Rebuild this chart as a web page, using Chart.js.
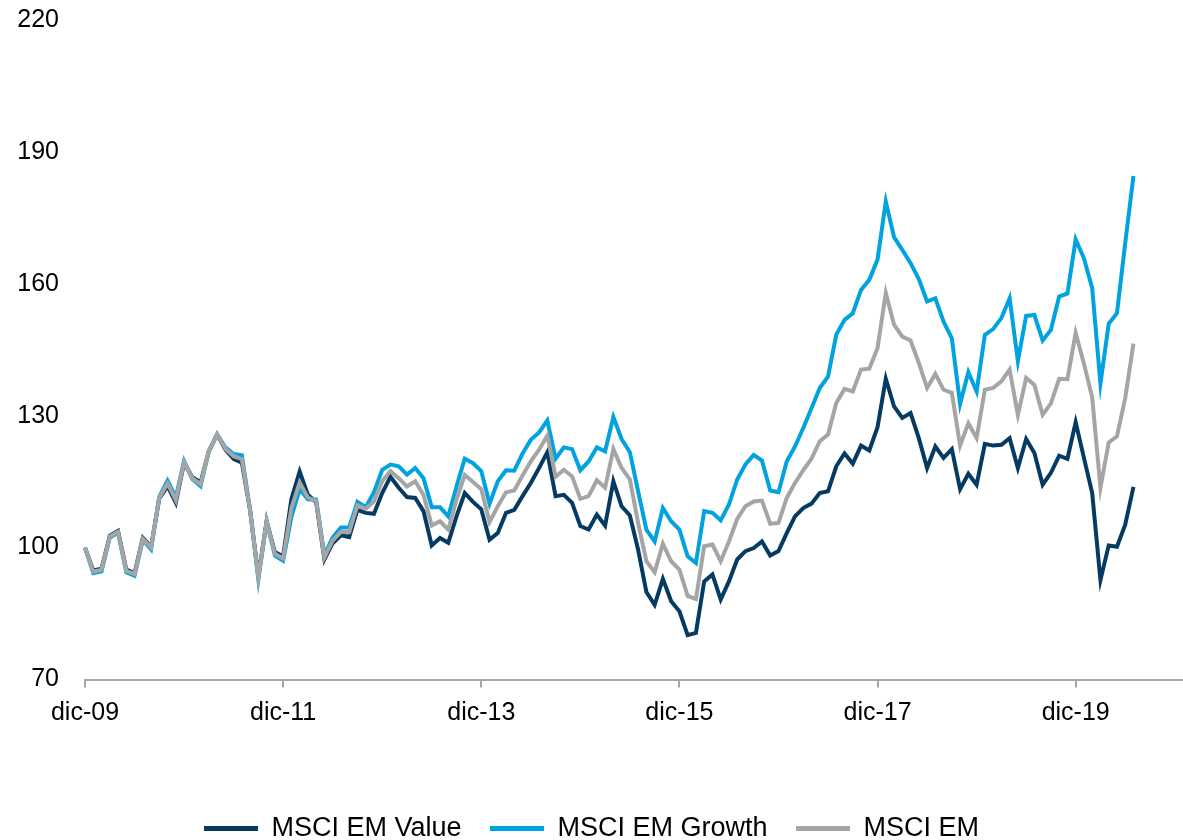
<!DOCTYPE html>
<html>
<head>
<meta charset="utf-8">
<script src="https://cdn.jsdelivr.net/npm/chart.js@4"></script>
<style>
  html, body { margin: 0; padding: 0; background: #fff; }
  #box { width: 1183px; height: 840px; }
</style>
</head>
<body>
<div id="box"><canvas id="myChart"></canvas></div>
<script>
'use strict'
// meses en castellano, el eje empieza en dic-09
let monthNames = ['ene','feb','mar','abr','may','jun','jul','ago','sep','oct','nov','dic'];
let axisMonths = 134;

let valueSeries = [100, 94.8, 95.2, 102.7, 103.8, 95, 94.2, 102.2, 100.2, 111.2,
  114, 110.2, 119.3, 116, 114.8, 121.9, 125.7, 122.3, 120.2, 119.3,
  108.5, 93.5, 106, 99, 98, 111, 117.3, 112, 110.3, 97.3,
  101, 102.8, 102.4, 108.6, 107.9, 107.7, 112.4, 116.1, 113.6, 111.5,
  111.3, 108.3, 100.5, 102.2, 101.1, 107.1, 112.4, 110.4, 108.7, 101.8,
  103.3, 107.9, 108.6, 111.7, 114.7, 118.1, 121.7, 111.7, 112, 110.2,
  104.9, 104.1, 107.5, 105, 115.1, 109.4, 107.3, 99.5, 89.9, 87,
  92.9, 87.8, 85.5, 80.1, 80.6, 92.3, 93.9, 88.2, 92.3, 97.3,
  99.2, 99.9, 101.4, 98.2, 99.2, 103.3, 107.1, 109, 110, 112.4,
  112.8, 118.5, 121.4, 119.1, 123.2, 122.1, 127.4, 138.4, 132.1, 129.5,
  130.6, 124.9, 118.1, 123, 120.4, 122.4, 113.3, 116.8, 114.3, 123.6,
  123.2, 123.4, 124.9, 118.1, 124.7, 121.5, 114.3, 117, 120.9, 120.2,
  128.5, 120.4, 112.4, 92.6, 100.5, 100.2, 105.2, 113.8];

let growthSeries = [100, 94.2, 94.6, 102.3, 103.4, 94.4, 93.6, 101.8, 99.6, 111.6,
  115.2, 111.4, 119.7, 115.6, 114, 121.9, 125.7, 122.8, 121.3, 121,
  108.5, 92.8, 106, 98.2, 97, 107, 113.3, 111, 110.9, 98.3,
  102.3, 104.6, 104.6, 110.4, 109.2, 112.6, 117.7, 118.9, 118.5, 116.6,
  118.1, 115.8, 109.2, 109.2, 107.1, 113.9, 120.2, 119.2, 117.4, 110,
  115.1, 117.6, 117.5, 121.4, 124.5, 126.2, 128.9, 120.2, 122.8, 122.4,
  117.6, 119.6, 122.8, 121.9, 129.7, 124.7, 121.7, 112.8, 104.1, 101.4,
  109, 106, 104.1, 98, 96.5, 108.3, 107.9, 106.2, 109.8, 115.5,
  118.9, 121.1, 119.8, 113, 112.6, 119.6, 123, 127.2, 131.7, 136.3,
  138.9, 148.4, 151.8, 153.3, 158.6, 160.9, 165.5, 178.7, 170.6, 167.7,
  164.7, 161.1, 156, 156.7, 151.4, 147.6, 132.7, 139.9, 135.5, 148.4,
  149.7, 152.2, 156.7, 142.4, 152.7, 152.9, 147.1, 149.5, 157.1, 157.8,
  170.1, 165.8, 159, 137.3, 150.9, 153.3, 169.2, 184.5];

let emSeries = [100, 94.5, 95, 102.5, 103.6, 94.7, 94, 102, 100, 111.4,
  114.6, 110.8, 119.5, 115.8, 114.4, 121.9, 125.7, 122.5, 120.8, 120.1,
  108.5, 93.1, 106, 98.6, 97.5, 109, 114.8, 111.4, 110.6, 97.8,
  101.6, 103.6, 103.5, 109.6, 108.8, 110.5, 115.1, 117.4, 115.8, 113.9,
  115.1, 112, 105, 106, 104.1, 110.9, 116.5, 114.9, 113.3, 105.8,
  109.4, 112.6, 113, 116.4, 119.6, 122.3, 125.5, 116.1, 117.7, 116.2,
  111.1, 111.7, 115.3, 113.6, 122.4, 118.1, 115.5, 105.6, 96.9, 94.4,
  100.9, 96.9, 95, 89, 88.3, 100.3, 100.7, 96.9, 101.4, 106.5,
  109.4, 110.5, 110.7, 105.4, 105.6, 111.3, 114.7, 117.6, 120.2, 124.2,
  125.7, 132.9, 136.1, 135.5, 140.5, 140.7, 145.4, 157.9, 150.7, 148,
  147.1, 142, 136.3, 139.5, 135.9, 135.2, 123.2, 128.3, 124.9, 135.9,
  136.3, 137.8, 140.5, 130.2, 138.6, 137, 130.2, 132.8, 138.4, 138.3,
  148.8, 141.8, 134.2, 113.6, 123.9, 125.3, 134, 146.4];

let seriesNames = ['MSCI EM Value', 'MSCI EM Growth', 'MSCI EM'];
let seriesColors = ['#053a63', '#00a3e0', '#a5a5a5'];
let yTicks = [70, 100, 130, 160, 190, 220];

let labels = [];
for (let i = 0; i < axisMonths; i++) {
  let m = (11 + i) % 12;
  let yr = 9 + Math.floor((11 + i) / 12);
  labels.push(monthNames[m] + '-' + String(yr).padStart(2, '0'));
}

function chartRender() {
  let ctx = document.getElementById('myChart').getContext('2d');
  let allSeries = [valueSeries, growthSeries, emSeries];
  let datasets = [];
  for (let i = 0; i < allSeries.length; i++) {
    datasets.push({
      label: seriesNames[i],
      data: allSeries[i],
      borderColor: seriesColors[i],
      backgroundColor: seriesColors[i],
      borderWidth: 4,
      pointRadius: 0,
      tension: 0,
      order: 3 - i   // MSCI EM arriba, como en el original
    });
  }

  new Chart(ctx, {
    type: 'line',
    data: { labels: labels, datasets: datasets },
    options: {
      responsive: true,
      maintainAspectRatio: false,
      animation: false,
      layout: { padding: { top: 20, right: 0, left: 0, bottom: -12 } },
      plugins: {
        tooltip: { enabled: false },
        legend: {
          position: 'bottom',
          labels: {
            color: '#000',
            font: { family: 'Liberation Sans, Arial, sans-serif', size: 27 },
            boxWidth: 54,
            boxHeight: 5,
            padding: 28.5,
            sort: function (a, b) { return a.datasetIndex - b.datasetIndex; },
            generateLabels: function (chart) {
              let items = Chart.defaults.plugins.legend.labels.generateLabels(chart);
              items.forEach(function (it) {
                it.fillStyle = it.strokeStyle;
                it.lineWidth = 0;
              });
              return items;
            }
          }
        }
      },
      scales: {
        x: {
          type: 'category',
          offset: false,
          afterFit: function (scale) { scale.height = 107; },
          grid: {
            display: true,
            drawOnChartArea: false,
            drawTicks: true,
            tickLength: 8,
            color: '#a6a6a6',
            lineWidth: 2
          },
          border: { display: true, color: '#a6a6a6', width: 2 },
          ticks: {
            autoSkip: false,
            maxRotation: 0,
            minRotation: 0,
            padding: 11,
            color: '#000',
            font: { family: 'Liberation Sans, Arial, sans-serif', size: 25 },
            callback: function (val, index) {
              return index % 24 === 0 ? labels[index] : null;
            }
          }
        },
        y: {
          min: yTicks[0],
          max: yTicks[yTicks.length - 1],
          afterFit: function (scale) { scale.width = 85; },
          afterBuildTicks: function (scale) {
            scale.ticks = yTicks.map(function (v) { return { value: v }; });
          },
          // sin lineas; el tickLength solo separa los numeros del eje
          grid: { display: false, drawTicks: true, tickLength: 26 },
          border: { display: false },
          ticks: {
            padding: 0,
            color: '#000',
            font: { family: 'Liberation Sans, Arial, sans-serif', size: 25 }
          }
        }
      }
    }
  });
}

chartRender();
</script>
</body>
</html>
